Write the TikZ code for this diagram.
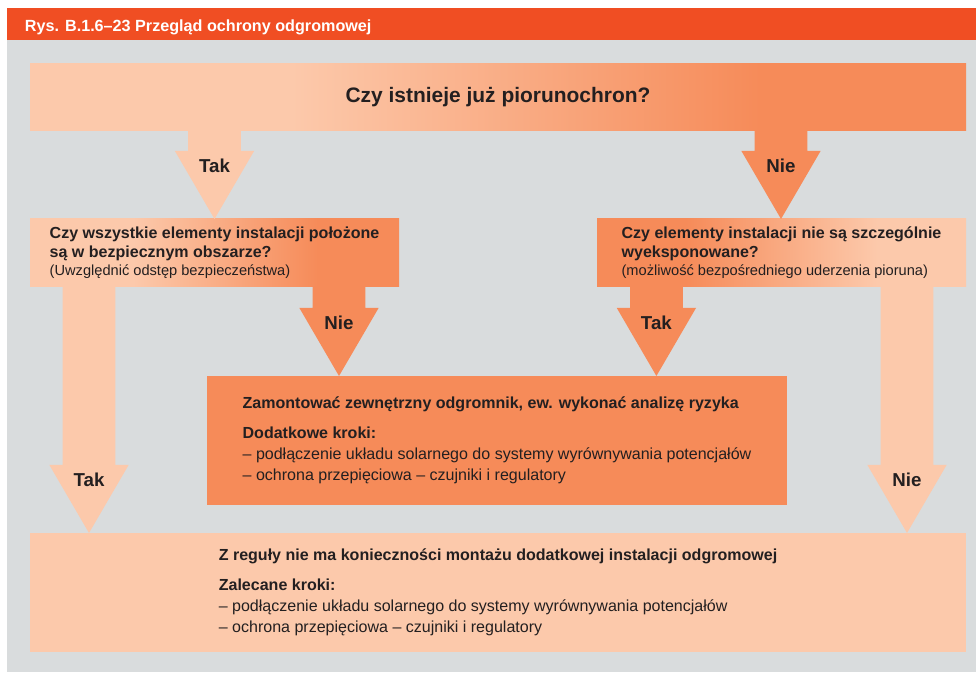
\documentclass[tikz,border=0pt]{standalone}
\usepackage{fontspec}
\setmainfont{Liberation Sans}
\usepackage{xcolor}
\usetikzlibrary{calc}
\definecolor{BORed}{HTML}{F04E23}
\definecolor{BOGrey}{HTML}{D9DCDD}
\definecolor{BOPeach}{HTML}{FCC9AB}
\definecolor{BOOrange}{HTML}{F68B59}
\definecolor{BOText}{HTML}{231F20}
\pgfdeclarehorizontalshading{BOFadeRight}{100bp}{color(0bp)=(BOPeach); color(39bp)=(BOPeach); color(64bp)=(BOOrange); color(100bp)=(BOOrange)}
\pgfdeclarehorizontalshading{BOFadeLeft}{100bp}{color(0bp)=(BOOrange); color(37bp)=(BOOrange); color(63bp)=(BOPeach); color(100bp)=(BOPeach)}
\tikzset{
  flowbox/.style={rectangle,inner sep=0pt,outer sep=0pt,align=left,text=BOText,font=\fontsize{11.4}{13.2}\selectfont},
  flowlabel/.style={anchor=base,text=BOText,font=\fontsize{13.3}{15}\selectfont\bfseries},
}
\newcommand{\fatarrow}[6]{%
  \coordinate (#6x) at (#2,0);
  \coordinate (#6s) at (#6x |- #3.south);
  \coordinate (#6t) at (#6x |- #4.north);
  \fill[#1] ($(#6s)+(-0.66,0)$) -- ($(#6t)+(-0.66,1.70)$) -- ($(#6t)+(-0.99,1.70)$) -- (#6t)
    -- ($(#6t)+(0.99,1.70)$) -- ($(#6t)+(0.66,1.70)$) -- ($(#6s)+(0.66,0)$) -- cycle;
  \node[flowlabel] (#6) at ($(#6t)+(0,1.16)$) {#5};
}

\begin{document}
\begin{tikzpicture}[x=1cm,y=1cm]
\path[use as bounding box] (0,0) rectangle (24.40,16.80);
\fill[BORed] (0.175,15.80) rectangle (24.40,16.60);
\fill[BOGrey] (0.175,0) rectangle (24.40,15.80);
\node[anchor=base west,text=white,font=\fontsize{11.5}{13}\selectfont\bfseries] (title) at (0.50,16.01) {Rys. B.1.6–23 Przegląd ochrony odgromowej};
% boxes
\node[flowbox,shading=BOFadeRight,minimum width=23.40cm,minimum height=1.675cm,font=\fontsize{14.9}{17}\selectfont\bfseries] (q0) at (12.45,14.3625) {Czy istnieje już piorunochron?};
\node[flowbox,shading=BOFadeRight,minimum width=9.225cm,minimum height=1.70cm] (q1) at (5.3625,10.475)
  {\textbf{Czy wszystkie elementy instalacji położone}\\\textbf{są w bezpiecznym obszarze?}\\{\fontsize{10.4}{12.1}\selectfont(Uwzględnić odstęp bezpieczeństwa)}};
\node[flowbox,shading=BOFadeLeft,minimum width=9.225cm,minimum height=1.70cm] (q2) at (19.5375,10.475)
  {\textbf{Czy elementy instalacji nie są szczególnie}\\\textbf{wyeksponowane?}\\{\fontsize{10.4}{12.1}\selectfont(możliwość bezpośredniego uderzenia pioruna)}};
\node[flowbox,fill=BOOrange,minimum width=14.50cm,minimum height=3.225cm,font=\fontsize{11.4}{15}\selectfont] (act) at (12.425,5.7875)
  {\textbf{Zamontować zewnętrzny odgromnik, ew. wykonać analizę ryzyka}\\[6pt]\textbf{Dodatkowe kroki:}\\– podłączenie układu solarnego do systemy wyrównywania potencjałów\\– ochrona przepięciowa – czujniki i regulatory};
\node[flowbox,fill=BOPeach,minimum width=23.40cm,minimum height=2.975cm,font=\fontsize{11.4}{15}\selectfont] (ok) at (12.45,1.9875)
  {\textbf{Z reguły nie ma konieczności montażu dodatkowej instalacji odgromowej}\\[6pt]\textbf{Zalecane kroki:}\\– podłączenie układu solarnego do systemy wyrównywania potencjałów\\– ochrona przepięciowa – czujniki i regulatory};
% arrows
\fatarrow{BOPeach}{5.3625}{q0}{q1}{Tak}{yes0}
\fatarrow{BOOrange}{19.525}{q0}{q2}{Nie}{no0}
\fatarrow{BOOrange}{8.475}{q1}{act}{Nie}{no1}
\fatarrow{BOOrange}{16.41}{q2}{act}{Tak}{yes1}
\fatarrow{BOPeach}{2.225}{q1}{ok}{Tak}{yes2}
\fatarrow{BOPeach}{22.675}{q2}{ok}{Nie}{no2}
\end{tikzpicture}
\end{document}
